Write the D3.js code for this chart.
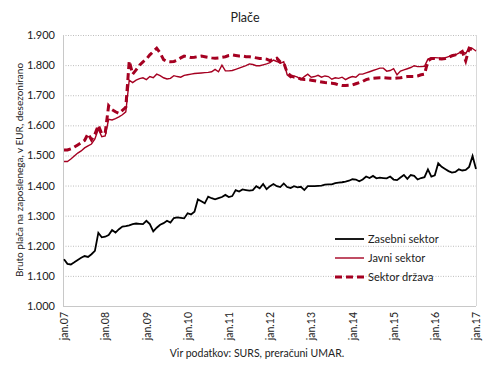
<!DOCTYPE html>
<html><head><meta charset="utf-8">
<script src="https://cdn.jsdelivr.net/npm/d3@7"></script>
<style>
body{margin:0;background:#fff;}
text{font-family:Lato,"Open Sans",sans-serif;fill:#222;}
</style></head>
<body><svg id="c" width="490" height="366"></svg>
<script>
const title = "Plače";
const yTitle = "Bruto plača na zaposlenega, v EUR, desezonirano";
const source = "Vir podatkov: SURS, preračuni UMAR.";
const yTicks = [1000,1100,1200,1300,1400,1500,1600,1700,1800,1900];
const xTickLabels = ["jan.07","jan.08","jan.09","jan.10","jan.11","jan.12","jan.13","jan.14","jan.15","jan.16","jan.17"];
const seriesNames = ["Zasebni sektor","Javni sektor","Sektor država"];
const zasebni = [1155,1140,1138,1145,1153,1160,1166,1163,1172,1183,1243,1228,1230,1236,1252,1244,1255,1264,1265,1268,
1272,1274,1273,1272,1283,1272,1248,1260,1270,1275,1283,1277,1292,1294,1293,1291,1308,1304,1313,1354,
1348,1341,1363,1358,1354,1358,1362,1369,1362,1365,1385,1380,1387,1385,1383,1385,1398,1391,1405,1388,
1398,1405,1398,1395,1407,1395,1392,1398,1394,1396,1385,1398,1398,1398,1399,1400,1403,1404,1404,1408,
1410,1411,1413,1416,1421,1420,1414,1420,1430,1425,1432,1424,1426,1425,1424,1430,1420,1418,1427,1435,
1422,1435,1432,1420,1425,1428,1454,1430,1434,1474,1462,1455,1448,1443,1445,1454,1450,1452,1462,1498,1455];
const javni = [1480,1480,1488,1498,1508,1515,1525,1532,1538,1555,1588,1562,1565,1620,1618,1622,1628,1635,1645,1750,
1742,1750,1755,1758,1752,1762,1758,1770,1765,1758,1754,1756,1765,1762,1760,1766,1768,1770,1772,1773,
1774,1775,1776,1778,1786,1778,1800,1781,1781,1782,1786,1790,1794,1798,1804,1802,1798,1798,1801,1804,
1808,1817,1812,1806,1811,1768,1758,1764,1760,1752,1762,1770,1760,1762,1766,1760,1764,1762,1753,1758,
1756,1760,1752,1758,1762,1760,1770,1770,1774,1778,1782,1786,1790,1790,1780,1782,1788,1768,1780,1784,
1788,1792,1798,1795,1795,1796,1820,1825,1825,1824,1823,1824,1828,1831,1834,1840,1846,1838,1858,1855,1847];
const drzava = [1518,1518,1522,1528,1535,1542,1550,1572,1552,1570,1600,1572,1575,1665,1652,1645,1640,1650,1660,1814,
1770,1784,1800,1811,1820,1834,1845,1856,1840,1818,1812,1811,1812,1816,1824,1830,1828,1825,1826,1828,
1830,1828,1826,1824,1823,1824,1826,1828,1832,1834,1832,1830,1830,1828,1828,1826,1824,1822,1822,1820,
1815,1820,1823,1810,1808,1775,1765,1760,1758,1754,1752,1752,1750,1748,1746,1744,1742,1741,1740,1738,
1734,1732,1732,1733,1734,1738,1742,1746,1752,1755,1756,1757,1758,1758,1757,1756,1756,1757,1758,1760,
1762,1762,1762,1764,1768,1770,1814,1822,1822,1821,1820,1822,1826,1831,1834,1838,1845,1814,1856,1852,1848];

const svg = d3.select("#c");
const L=63, R=476, T=35, B=306;
const x = d3.scaleLinear().domain([0, zasebni.length-1]).range([L+1, R]);
const y = d3.scaleLinear().domain([1000,1900]).range([B, T]);
const fmt = v => d3.format(",")(v).replace(",", ".");

// grid
svg.append("g").selectAll("line").data(yTicks.filter(v=>v>1000)).join("line")
 .attr("x1",L).attr("x2",R).attr("y1",d=>y(d)+0.5).attr("y2",d=>y(d)+0.5)
 .attr("stroke","#bdbdbd").attr("stroke-width",1).attr("stroke-dasharray","1,1.5");
// axes lines
svg.append("line").attr("x1",L+0.5).attr("x2",L+0.5).attr("y1",T).attr("y2",B).attr("stroke","#c8c8c8");
svg.append("line").attr("x1",R+0.5).attr("x2",R+0.5).attr("y1",T).attr("y2",B).attr("stroke","#d9d9d9");
svg.append("line").attr("x1",L).attr("x2",R).attr("y1",B+0.5).attr("y2",B+0.5).attr("stroke","#c8c8c8");

// y tick labels
const yAxis = d3.axisLeft(y).tickValues(yTicks).tickSize(0).tickPadding(8).tickFormat(d=>fmt(d));
const ga = svg.append("g").attr("transform",`translate(${L},0)`).call(yAxis);
ga.select(".domain").remove();
ga.selectAll("text").style("font-family","Lato, sans-serif").style("font-size","11px").attr("fill","#222");

// x labels
const xIdx = xTickLabels.map((d,i)=>i*12);
const xAxis = d3.axisBottom(x).tickValues(xIdx).tickSize(0).tickFormat((d,i)=>xTickLabels[i]);
const gx = svg.append("g").attr("transform",`translate(0,${B})`).call(xAxis);
gx.select(".domain").remove();
gx.selectAll("text").style("font-family","Lato, sans-serif").style("font-size","10.5px").attr("fill","#222")
 .attr("transform","rotate(-90)").attr("text-anchor","end").attr("x",-6).attr("y",0).attr("dy","0.35em");

// lines
const line = d3.line().x((d,i)=>x(i)).y(d=>y(d));
svg.append("path").datum(drzava).attr("d",line).attr("fill","none").attr("stroke","#a50021").attr("stroke-width",3).attr("stroke-dasharray","7,4");
svg.append("path").datum(javni).attr("d",line).attr("fill","none").attr("stroke","#a50021").attr("stroke-width",1.4);
svg.append("path").datum(zasebni).attr("d",line).attr("fill","none").attr("stroke","#000").attr("stroke-width",1.8);

// title
svg.append("text").attr("x",245).attr("y",22).attr("text-anchor","middle").style("font-size","12.5px").text(title);
// y title
svg.append("text").attr("transform","translate(23,170) rotate(-90)").attr("text-anchor","middle").style("font-size","10px").text(yTitle);
// source
svg.append("text").attr("x",257).attr("y",357).attr("text-anchor","middle").style("font-size","10.5px").text(source);

// legend
const leg = [{n:seriesNames[0],c:"#000",w:1.8,da:null},{n:seriesNames[1],c:"#a50021",w:1.4,da:null},{n:seriesNames[2],c:"#a50021",w:3,da:"7,4"}];
const lg = svg.append("g");
leg.forEach((d,i)=>{
  const yy = 239 + i*19;
  lg.append("line").attr("x1",335).attr("x2",364).attr("y1",yy).attr("y2",yy).attr("stroke",d.c).attr("stroke-width",d.w).attr("stroke-dasharray",d.da);
  lg.append("text").attr("x",368).attr("y",yy).attr("dy","0.35em").style("font-size","11px").text(d.n);
});
</script></body></html>
